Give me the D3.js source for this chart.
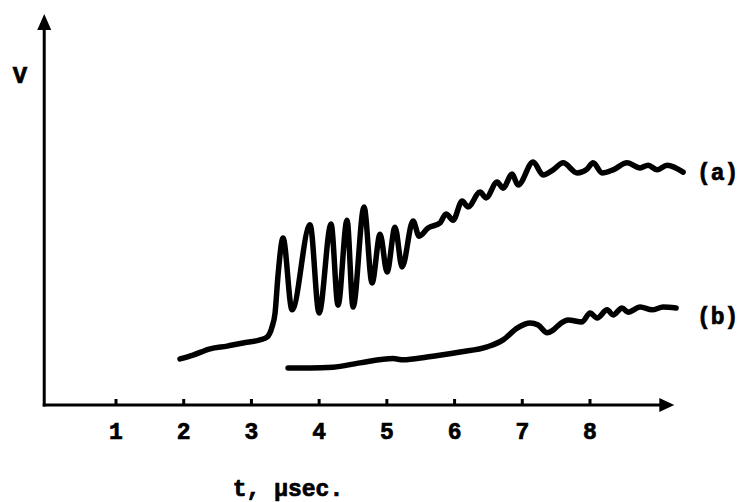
<!DOCTYPE html>
<html>
<head>
<meta charset="utf-8">
<script src="https://cdn.jsdelivr.net/npm/d3@7/dist/d3.min.js"></script>
<style>
  body { margin: 0; background: #fff; }
  text { font-family: "Liberation Mono", "DejaVu Sans Mono", monospace; font-weight: bold; fill: #000; stroke: #000; stroke-width: 0.7px; }
</style>
</head>
<body>
<svg width="740" height="502"></svg>
<script>
// trace (a): time in usec, voltage in arbitrary units (0..100)
var tA = [1.945, 2.137, 2.389, 2.640, 2.876, 3.127, 3.230, 3.304, 3.349, 3.393, 3.467, 3.600, 3.866, 3.999,
          4.176, 4.279, 4.412, 4.501, 4.663, 4.781, 4.900, 5.003, 5.121, 5.225, 5.387, 5.476, 5.609, 5.786,
          5.874, 5.978, 6.111, 6.199, 6.377, 6.465, 6.628, 6.716, 6.849, 6.938, 7.160, 7.307, 7.455, 7.603,
          7.810, 7.957, 8.046, 8.179, 8.341, 8.548, 8.740, 8.858, 8.991, 9.139, 9.375];
var vA = [11.8, 12.8, 14.4, 15.1, 15.9, 16.7, 17.4, 20.0, 23.6, 33.3, 42.8, 24.4, 46.2, 23.6,
          46.4, 25.6, 47.4, 25.1, 50.8, 31.3, 43.8, 34.1, 45.6, 35.4, 47.2, 43.3, 45.4, 46.7,
          49.0, 47.4, 52.3, 50.8, 54.6, 53.1, 57.2, 55.6, 59.2, 56.4, 62.3, 59.0, 60.3, 62.1,
          59.5, 60.5, 62.1, 59.5, 60.3, 62.1, 60.8, 61.5, 60.3, 61.5, 59.7];

// trace (b)
var tB = [3.541, 3.866, 4.206, 4.604, 5.092, 5.240, 5.594, 6.082, 6.481, 6.717, 6.924, 7.116, 7.234, 7.367,
          7.455, 7.558, 7.677, 7.883, 8.001, 8.105, 8.253, 8.341, 8.474, 8.563, 8.740, 8.917, 9.080, 9.272];
var vB = [9.5, 9.5, 9.7, 10.8, 11.9, 11.6, 12.3, 13.6, 14.9, 16.7, 19.7, 21.0, 20.5, 18.5,
          19.2, 20.8, 21.8, 21.3, 23.6, 22.3, 24.4, 23.1, 24.9, 23.8, 25.1, 24.4, 25.1, 24.9];

var xTicks = [1, 2, 3, 4, 5, 6, 7, 8];
var xLabel = "t, \u00b5sec.";
var yLabel = "V";
var seriesNames = ["(a)", "(b)"];

var svg = d3.select("svg");

var x = d3.scaleLinear().domain([1, 8]).range([116, 590]);
var y = d3.scaleLinear().domain([0, 100]).range([405, 15]);

var x0 = x(-0.06), x1 = x(9.23);
var y0 = y(0), y1 = y(100);

// axes lines
var axes = svg.append("g").attr("stroke", "#000").attr("stroke-width", 3).attr("fill", "none");
axes.append("line").attr("x1", x0).attr("y1", y0 + 1.5).attr("x2", x0).attr("y2", y1 + 10);
axes.append("line").attr("x1", x0 - 1.5).attr("y1", y0).attr("x2", x1 - 10).attr("y2", y0);

// arrow heads
svg.append("path")
  .attr("d", "M" + x0 + "," + (y1 - 1) + "L" + (x0 - 7) + "," + (y1 + 15) + "L" + (x0 + 7) + "," + (y1 + 15) + "Z")
  .attr("fill", "#000");
svg.append("path")
  .attr("d", "M" + (x1 + 1) + "," + y0 + "L" + (x1 - 14) + "," + (y0 - 7) + "L" + (x1 - 14) + "," + (y0 + 7) + "Z")
  .attr("fill", "#000");

// ticks (small upward marks) + labels
var ticks = svg.append("g");
ticks.selectAll("line").data(xTicks).enter().append("line")
  .attr("x1", function(d) { return x(d); })
  .attr("x2", function(d) { return x(d); })
  .attr("y1", y0)
  .attr("y2", y0 - 6)
  .attr("stroke", "#000")
  .attr("stroke-width", 3);
ticks.selectAll("text").data(xTicks).enter().append("text")
  .attr("x", function(d) { return x(d); })
  .attr("y", y0 + 34)
  .attr("text-anchor", "middle")
  .style("font-size", "23px")
  .text(function(d) { return d; });

svg.append("text")
  .attr("x", 288).attr("y", 496)
  .attr("text-anchor", "middle")
  .style("font-size", "23px")
  .text(xLabel);

svg.append("text")
  .attr("x", 20).attr("y", 83)
  .attr("text-anchor", "middle")
  .style("font-size", "24px")
  .text(yLabel);

// traces
var line = d3.line()
  .x(function(d) { return x(d[0]); })
  .y(function(d) { return y(d[1]); })
  .curve(d3.curveMonotoneX);

var dataA = tA.map(function(t, i) { return [t, vA[i]]; });
var dataB = tB.map(function(t, i) { return [t, vB[i]]; });

[dataA, dataB].forEach(function(d) {
  svg.append("path")
    .datum(d)
    .attr("fill", "none")
    .attr("stroke", "#000")
    .attr("stroke-width", 5.5)
    .attr("stroke-linejoin", "round")
    .attr("stroke-linecap", "round")
    .attr("d", line);
});

// series labels
svg.append("text").attr("x", 697).attr("y", y(vA[vA.length - 1]) + 8)
  .style("font-size", "23px").text(seriesNames[0]);
svg.append("text").attr("x", 697).attr("y", y(vB[vB.length - 1]) + 16)
  .style("font-size", "23px").text(seriesNames[1]);
</script>
</body>
</html>
